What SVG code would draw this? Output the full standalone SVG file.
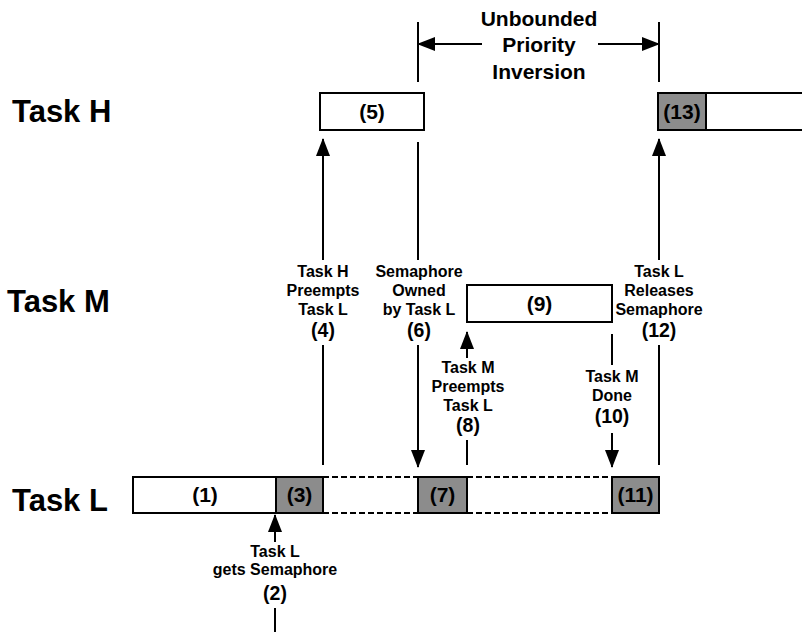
<svg xmlns="http://www.w3.org/2000/svg" width="802" height="632" viewBox="0 0 802 632">
<defs>
<marker id="ah" markerUnits="userSpaceOnUse" markerWidth="18" markerHeight="14" refX="17" refY="7" orient="auto">
<path d="M0,0 L18,7 L0,14 z" fill="#000"/>
</marker>
<style>
text{font-family:"Liberation Sans",Arial,sans-serif;font-weight:bold;fill:#000;text-anchor:middle}
.task{font-size:31px;text-anchor:start}
.lbl{font-size:16px}
.num{font-size:19.5px}
.box{font-size:21px}
.top{font-size:21px}
.w{fill:#fff;stroke:#000;stroke-width:2}
.g{fill:#8c8c8c;stroke:#000;stroke-width:2}
.ln{stroke:#000;stroke-width:2;fill:none}
.ar{stroke:#000;stroke-width:2;fill:none;marker-end:url(#ah)}
.dash{stroke:#000;stroke-width:2;stroke-dasharray:6,3;fill:none}
</style>
</defs>
<rect width="802" height="632" fill="#fff"/>

<g id="labels">
<text class="task" x="12" y="122">Task H</text>
<text class="task" x="7" y="312">Task M</text>
<text class="task" x="12" y="511">Task L</text>
</g>

<g id="inversion">
<text class="top" x="539" y="26">Unbounded</text>
<text class="top" x="539" y="52">Priority</text>
<text class="top" x="539" y="79">Inversion</text>
</g>

<g id="taskL">
<rect class="w" x="133" y="477" width="143" height="36"/>
<text class="box" x="205" y="502">(1)</text>
<rect class="g" x="276" y="477" width="47" height="36"/>
<text class="box" x="299.5" y="502">(3)</text>
<line class="dash" x1="323" y1="477" x2="418" y2="477"/>
<line class="dash" x1="323" y1="513" x2="418" y2="513"/>
<rect class="g" x="418" y="477" width="49" height="36"/>
<text class="box" x="442.5" y="502">(7)</text>
<line class="dash" x1="467" y1="477" x2="612" y2="477"/>
<line class="dash" x1="467" y1="513" x2="612" y2="513"/>
<rect class="g" x="612" y="477" width="47" height="36"/>
<text class="box" x="635.5" y="502">(11)</text>
</g>

<g id="taskM">
<rect class="w" x="467" y="285" width="145" height="37"/>
<text class="box" x="539.5" y="311">(9)</text>
</g>

<g id="taskH">
<rect class="w" x="320" y="93" width="104" height="37"/>
<text class="box" x="372" y="119">(5)</text>
<rect class="w" x="706" y="93" width="110" height="37"/>
<rect class="g" x="658" y="93" width="48" height="37"/>
<text class="box" x="682" y="119">(13)</text>
</g>

<g id="connectors">
<line class="ln" x1="418" y1="22" x2="418" y2="82"/>
<line class="ln" x1="659" y1="22" x2="659" y2="82"/>
<line class="ar" x1="482" y1="44" x2="418" y2="44"/>
<line class="ar" x1="598" y1="44" x2="659" y2="44"/>

<line class="ar" x1="275" y1="542" x2="275" y2="515"/>
<line class="ln" x1="275" y1="608" x2="275" y2="632"/>

<line class="ln" x1="323" y1="465" x2="323" y2="345"/>
<line class="ar" x1="323" y1="260" x2="323" y2="139"/>

<line class="ln" x1="418" y1="142" x2="418" y2="260"/>
<line class="ar" x1="418" y1="345" x2="418" y2="467"/>

<line class="ln" x1="467" y1="465" x2="467" y2="440"/>
<line class="ar" x1="467" y1="358" x2="467" y2="332"/>

<line class="ln" x1="612" y1="334" x2="612" y2="365"/>
<line class="ar" x1="612" y1="433" x2="612" y2="467"/>

<line class="ln" x1="659" y1="465" x2="659" y2="345"/>
<line class="ar" x1="659" y1="260" x2="659" y2="139"/>
</g>

<g id="event2">
<text class="lbl" x="275" y="557">Task L</text>
<text class="lbl" x="275" y="575">gets Semaphore</text>
<text class="num" x="275" y="600">(2)</text>
</g>
<g id="event4">
<text class="lbl" x="323" y="277">Task H</text>
<text class="lbl" x="323" y="296">Preempts</text>
<text class="lbl" x="323" y="315">Task L</text>
<text class="num" x="323" y="337">(4)</text>
</g>
<g id="event6">
<text class="lbl" x="419" y="277">Semaphore</text>
<text class="lbl" x="419" y="296">Owned</text>
<text class="lbl" x="419" y="315">by Task L</text>
<text class="num" x="419" y="337">(6)</text>
</g>
<g id="event8">
<text class="lbl" x="468" y="373">Task M</text>
<text class="lbl" x="468" y="392">Preempts</text>
<text class="lbl" x="468" y="411">Task L</text>
<text class="num" x="468" y="432">(8)</text>
</g>
<g id="event10">
<text class="lbl" x="612" y="382">Task M</text>
<text class="lbl" x="612" y="401">Done</text>
<text class="num" x="612" y="423">(10)</text>
</g>
<g id="event12">
<text class="lbl" x="659" y="277">Task L</text>
<text class="lbl" x="659" y="296">Releases</text>
<text class="lbl" x="659" y="315">Semaphore</text>
<text class="num" x="659" y="337">(12)</text>
</g>
</svg>
